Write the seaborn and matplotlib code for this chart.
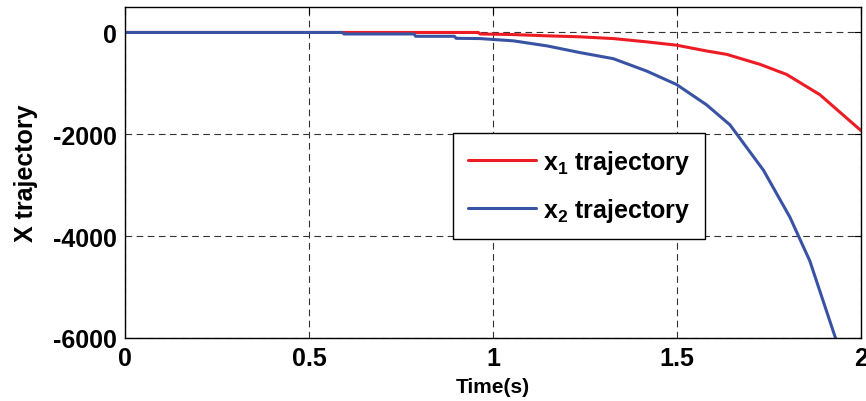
import matplotlib
matplotlib.use("Agg")
import matplotlib.pyplot as plt
import seaborn as sns
import pandas as pd

# Data
t_x1 = [0.0, 0.96, 0.965, 1.05, 1.147, 1.237, 1.327, 1.418, 1.499, 1.58, 1.635, 1.726, 1.798, 1.888, 2.0]
v_x1 = [0, 0, -30, -40, -66, -86, -120, -185, -250, -363, -430, -627, -825, -1221, -1927]

t_x2 = [0.0, 0.59, 0.595, 0.785, 0.79, 0.895, 0.9, 0.965, 1.056, 1.147, 1.237, 1.327, 1.418,
        1.499, 1.58, 1.644, 1.735, 1.807, 1.861, 1.934]
v_x2 = [0, 0, -30, -30, -75, -75, -115, -120, -165, -264, -396, -515, -759,
        -1023, -1419, -1815, -2706, -3630, -4488, -6073]

series_names = [r"$\mathbf{x_1}$ trajectory", r"$\mathbf{x_2}$ trajectory"]
colors = ["#ed1c24", "#3953a4"]
x_ticks = [0, 0.5, 1, 1.5, 2]
x_tick_labels = ["0", "0.5", "1", "1.5", "2"]
y_ticks = [0, -2000, -4000, -6000]
y_tick_labels = ["0", "-2000", "-4000", "-6000"]

df = pd.concat([
    pd.DataFrame({"t": t_x1, "v": v_x1, "series": series_names[0]}),
    pd.DataFrame({"t": t_x2, "v": v_x2, "series": series_names[1]}),
], ignore_index=True)

sns.set_style("white")
plt.rcParams["font.family"] = ["Liberation Sans", "DejaVu Sans"]
plt.rcParams["mathtext.fontset"] = "custom"
plt.rcParams["mathtext.bf"] = "Liberation Sans:bold"
plt.rcParams["mathtext.rm"] = "Liberation Sans:bold"
plt.rcParams["text.color"] = "black"
plt.rcParams["axes.labelcolor"] = "black"
plt.rcParams["xtick.color"] = "black"
plt.rcParams["ytick.color"] = "black"

fig = plt.figure(figsize=(8.66, 4.02), dpi=100)
ax = fig.add_axes([125 / 866, 1 - 339 / 402, 736 / 866, 331 / 402])

sns.lineplot(data=df, x="t", y="v", hue="series", palette=colors,
             estimator=None, sort=False, linewidth=2.2, ax=ax)

ax.set_xlim(0, 2)
ax.set_ylim(-6000, 500)
ax.set_xticks(x_ticks)
ax.set_xticklabels(x_tick_labels, fontsize=18, fontweight="bold")
ax.set_yticks(y_ticks)
ax.set_yticklabels(y_tick_labels, fontsize=18, fontweight="bold")
ax.tick_params(direction="in", length=5, width=0.8, top=True, right=True, pad=6, colors="black")
for s in ax.spines.values():
    s.set_visible(True)
    s.set_color("black")
    s.set_linewidth(1.0)

ax.grid(True, linestyle=(0, (6, 4)), color="#333333", linewidth=0.8)
ax.set_xlabel("Time(s)", fontsize=15, fontweight="bold", labelpad=5)
ax.set_ylabel("X trajectory", fontsize=18, fontweight="bold", labelpad=10.5)

leg = ax.legend(loc="upper left", bbox_to_anchor=(0.4457, 0.619), borderaxespad=0,
                frameon=True, fancybox=False, framealpha=1, edgecolor="black",
                prop={"weight": "bold", "size": 18}, handlelength=2.7,
                handletextpad=0.3, labelspacing=0.8, borderpad=0.6)
leg.get_frame().set_linewidth(1.0)
leg.set_title(None)
for txt in leg.get_texts():
    txt.set_color("black")

fig.savefig("out.png", dpi=100)
